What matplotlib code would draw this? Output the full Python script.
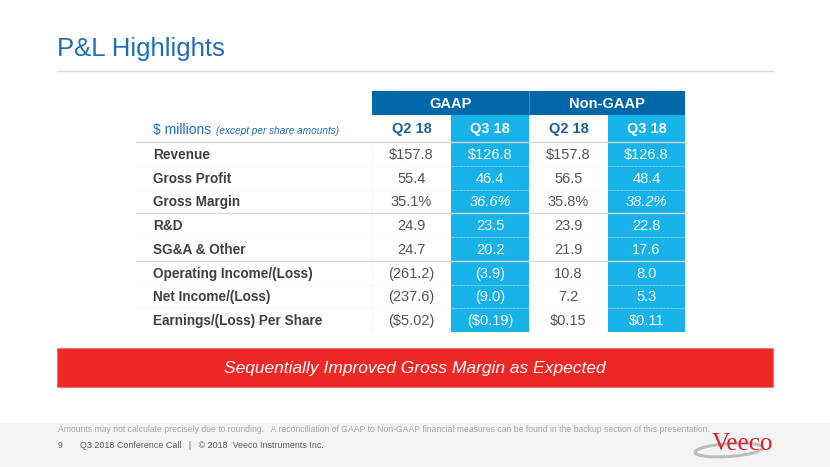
import matplotlib.pyplot as plt
from matplotlib.patches import Rectangle, Ellipse

plt.rcParams['font.family'] = ['Liberation Sans', 'DejaVu Sans']

# table data
row_labels = ['Revenue', 'Gross Profit', 'Gross Margin', 'R&D', 'SG&A & Other',
              'Operating Income/(Loss)', 'Net Income/(Loss)', 'Earnings/(Loss) Per Share']
groups = ['GAAP', 'Non-GAAP']
quarters = ['Q2 18', 'Q3 18', 'Q2 18', 'Q3 18']
gaap_q2 = ['$157.8', '55.4', '35.1%', '24.9', '24.7', '(261.2)', '(237.6)', '($5.02)']
gaap_q3 = ['$126.8', '46.4', '36.6%', '23.5', '20.2', '(3.9)', '(9.0)', '($0.19)']
nongaap_q2 = ['$157.8', '56.5', '35.8%', '23.9', '21.9', '10.8', '7.2', '$0.15']
nongaap_q3 = ['$126.8', '48.4', '38.2%', '22.8', '17.6', '8.0', '5.3', '$0.11']
columns = [gaap_q2, gaap_q3, nongaap_q2, nongaap_q3]

dark_blue = '#0068A9'
light_blue = '#16B2E8'
title_blue = '#1F6EB4'

fig = plt.figure(figsize=(8.3, 4.67), dpi=100)
ax = fig.add_axes([0, 0, 1, 1])
ax.set_xlim(0, 830)
ax.set_ylim(467, 0)
ax.axis('off')

# title + rule
ax.text(57, 49, 'P&L Highlights', fontsize=18.5, color=title_blue, va='center', ha='left')
ax.plot([57, 773], [71, 71], color='#D9D9D9', lw=1)

# table geometry
col_edges = [372, 451, 529, 608, 685]
head_top, head_bot, sub_bot = 91, 115, 142
row_h = 23.75
n = len(row_labels)
table_bot = sub_bot + n * row_h

# group headers
for i, g in enumerate(groups):
    x0, x1 = col_edges[2 * i], col_edges[2 * i + 2]
    ax.add_patch(Rectangle((x0, head_top), x1 - x0, head_bot - head_top, color=dark_blue, lw=0))
    ax.text((x0 + x1) / 2, (head_top + head_bot) / 2 + 1, g, color='white', fontsize=10.5,
            fontweight='bold', ha='center', va='center')
ax.plot([529, 529], [head_top, head_bot], color='#3A8CC4', lw=0.8)

# light blue Q3 columns
for j in (1, 3):
    x0, x1 = col_edges[j], col_edges[j + 1]
    ax.add_patch(Rectangle((x0, head_bot), x1 - x0, table_bot - head_bot, color=light_blue, lw=0))

# quarter headers
for j, q in enumerate(quarters):
    xc = (col_edges[j] + col_edges[j + 1]) / 2
    ax.text(xc, (head_bot + sub_bot) / 2 + 1, q, fontsize=10.5, fontweight='bold',
            color='white' if j % 2 else '#1E5F9C', ha='center', va='center')

ax.text(153, 130, '$ millions', fontsize=10, color=title_blue, va='center', ha='left')
ax.text(216, 131, '(except per share amounts)', fontsize=7.2, style='italic',
        color=title_blue, va='center', ha='left')

# grid lines
ax.plot([136, 685], [sub_bot, sub_bot], color='#D6D6D6', lw=1)
for k in range(1, n):
    y = sub_bot + k * row_h
    if k in (3, 5):
        ax.plot([136, 685], [y, y], color='#DADADA', lw=1)
    else:
        ax.plot([136, 372], [y, y], color='#EEEEEE', lw=0.6, ls=(0, (1, 1)))
        ax.plot([372, 685], [y, y], color='#F2F2F2', lw=0.5, ls=(0, (1, 1)))
ax.plot([372, 372], [sub_bot, table_bot], color='#E6E6E6', lw=0.6, ls=(0, (1, 1)))

# rows
for i, lab in enumerate(row_labels):
    yc = sub_bot + (i + 0.5) * row_h + 1
    ax.text(153, yc, lab, fontsize=9.8, fontweight='bold', color='#404040',
            ha='left', va='center')
    for j, col in enumerate(columns):
        xc = (col_edges[j] + col_edges[j + 1]) / 2
        italic = (lab == 'Gross Margin' and j % 2 == 1)
        ax.text(xc, yc, col[i], fontsize=10.5, color='white' if j % 2 else '#555555',
                style='italic' if italic else 'normal', ha='center', va='center')

# red banner
ax.add_patch(Rectangle((57, 348), 716, 38.5, facecolor='#EE2824', edgecolor='#F07070', lw=0.6))
ax.text(415, 368, 'Sequentially Improved Gross Margin as Expected', color='white',
        fontsize=12.5, style='italic', ha='center', va='center')

# footer
ax.add_patch(Rectangle((0, 423), 830, 44, color='#F3F4F4', lw=0))
ax.text(58, 430, 'Amounts may not calculate precisely due to rounding.   A reconciliation of GAAP to '
        'Non-GAAP financial measures can be found in the backup section of this presentation.',
        fontsize=6.2, color='#A6A6A6', ha='left', va='center')
ax.text(58, 445, '9', fontsize=6.2, color='#595959', ha='left', va='center')
ax.text(80, 445, 'Q3 2018 Conference Call   |   \u00a9 2018  Veeco Instruments Inc.',
        fontsize=6.4, color='#595959', ha='left', va='center')

# logo
ax.add_patch(Ellipse((729, 450), 68, 13, angle=-4, fill=False, edgecolor='#BDBDBD', lw=2.2))
ax.text(742, 444, 'Veeco', family='Liberation Serif', fontsize=18, color='#E21F26',
        ha='center', va='center')

fig.savefig('out.png', dpi=100)
